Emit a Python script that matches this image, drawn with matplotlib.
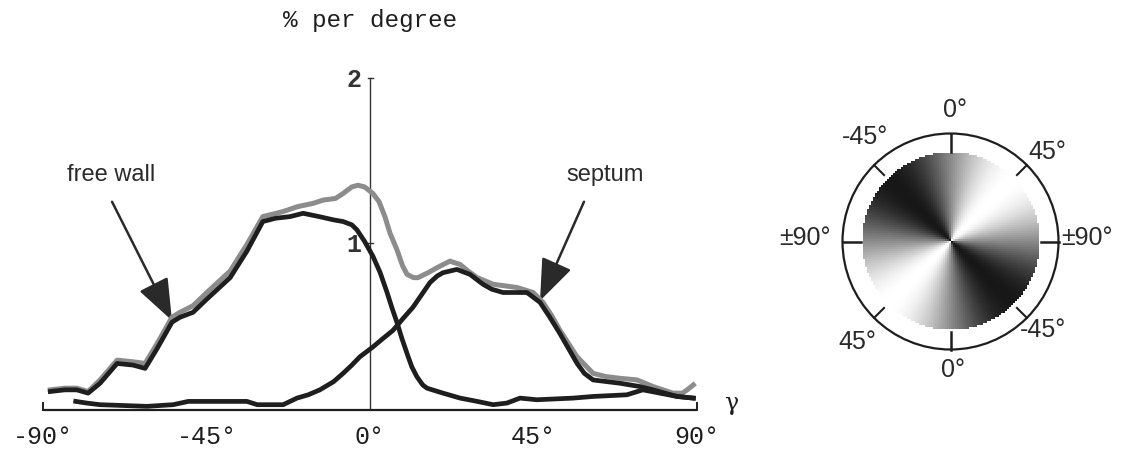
import numpy as np
import matplotlib
matplotlib.use("Agg")
import matplotlib.pyplot as plt
from matplotlib.patches import Circle, FancyArrowPatch

# helix angle distribution, % per degree
gamma_total = [-88, -84, -80.7, -77.6, -74.3, -69.6, -65.2, -61.9, -58.6, -54.5, -52.3, -48.7,
               -44.9, -38.5, -33.9, -29.5, -24, -20, -15.7, -12.9, -9.5, -7.4, -5, -3.3, -1.5,
               0.8, 2.5, 4.1, 5.5, 7.4, 9, 10.2, 12, 13.2, 16, 18.4, 22, 24.8, 27, 29.5, 33.9,
               40.5, 44.9, 47.6, 50, 52.3, 57, 61.4, 65, 68.8, 73.5, 77.9, 83.4, 86, 87.3, 89]
total = [0.11, 0.12, 0.12, 0.10, 0.17, 0.29, 0.28, 0.27, 0.39, 0.55, 0.58, 0.62,
         0.70, 0.83, 0.99, 1.16, 1.19, 1.22, 1.24, 1.26, 1.27, 1.30, 1.34, 1.35, 1.34,
         1.30, 1.25, 1.16, 1.06, 0.96, 0.86, 0.81, 0.79, 0.79, 0.82, 0.85, 0.89, 0.87, 0.83, 0.79, 0.75,
         0.73, 0.70, 0.64, 0.56, 0.47, 0.31, 0.21, 0.19, 0.18, 0.17, 0.13, 0.09, 0.09, 0.11, 0.14]

gamma_free = [-88, -84, -80.7, -77.6, -74.3, -69.6, -65.2, -61.9, -58.6, -54.5, -52.3, -48.7,
              -44.9, -38.5, -33.9, -29.5, -26, -22, -18.4, -14, -10, -7.4, -5, -3.6, -1.5,
              0.8, 2.8, 4.7, 6, 7.4, 8.8, 10.2, 11.5, 12.9, 14.5, 15.7, 20.1, 24.8, 29.5,
              33.9, 37.7, 41.3, 45.9, 55.9, 61.4, 70.7, 75.1, 79.8, 84.5, 89]
free_wall = [0.10, 0.11, 0.11, 0.09, 0.15, 0.27, 0.26, 0.24, 0.36, 0.52, 0.55, 0.58,
             0.66, 0.79, 0.95, 1.13, 1.15, 1.16, 1.18, 1.16, 1.14, 1.13, 1.11, 1.08, 1.01,
             0.92, 0.82, 0.70, 0.61, 0.52, 0.42, 0.33, 0.25, 0.19, 0.14, 0.12, 0.09, 0.06, 0.04,
             0.02, 0.03, 0.06, 0.05, 0.06, 0.07, 0.08, 0.11, 0.09, 0.07, 0.06]

gamma_septum = [-81, -78, -74.3, -61.4, -54.2, -50, -33.9, -31, -23.9, -20.1, -17, -13.8, -10,
                -7.4, -5, -2.8, 0.8, 3.5, 6.3, 9, 11.8, 14, 16.5, 18.5, 20.1, 23.9, 27.5, 31.1,
                33.5, 36.6, 43.2, 46.8, 49.5, 52.3, 57, 59, 61.4, 68.8, 74.3, 77.9, 84.5, 89]
septum = [0.04, 0.03, 0.02, 0.01, 0.02, 0.04, 0.04, 0.02, 0.02, 0.06, 0.08, 0.11, 0.16,
          0.21, 0.26, 0.31, 0.37, 0.42, 0.47, 0.54, 0.61, 0.68, 0.76, 0.80, 0.82, 0.84, 0.81, 0.75,
          0.72, 0.70, 0.70, 0.64, 0.55, 0.45, 0.27, 0.21, 0.17, 0.15, 0.13, 0.11, 0.07, 0.06]

x_ticks = [-90, -45, 0, 45, 90]
x_tick_labels = ["-90°", "-45°", "0°", "45°", "90°"]

# key disc: angle labels (clockwise from top) and where the grey ramp is white
key_labels = ["0°", "-45°", "45°", "±90°", "±90°", "45°", "-45°", "0°"]
key_label_pos = [(0.045, 1.315), (-0.855, 1.045), (0.965, 0.895), (-1.455, 0.035),
                 (1.365, 0.035), (-0.935, -1.005), (0.925, -0.885), (0.025, -1.285)]
WHITE_ANGLE = 45

DARK = "#1e1e1e"
GREY = "#8c8c8c"
MONO = "Liberation Mono"
SANS = "Liberation Sans"

fig = plt.figure(figsize=(11.28, 4.5), dpi=100)
ax = fig.add_axes([43 / 1128, 42 / 450, 654 / 1128, 330 / 450])
ax.set_xlim(-90, 90)
ax.set_ylim(0, 2)
ax.axis("off")

# axes drawn by hand, like the original figure
ax.plot([-90, 90], [-0.01, -0.01], color=DARK, lw=1.6, clip_on=False, solid_capstyle="butt")
for end in (-90, 90):
    ax.plot([end, end], [-0.01, 0.03], color=DARK, lw=1.4, clip_on=False)
ax.plot([0, 0], [0, 2], color="#333333", lw=1.0, clip_on=False)
for yv in (1, 2):
    ax.plot([-0.5, 0.9], [yv, yv], color="#333333", lw=1.0, clip_on=False)
    ax.text(-4.5, yv - 0.01, str(yv), family=MONO, fontsize=18, fontweight="bold",
            ha="center", va="center", color="#333333")

ax.plot(gamma_total, total, color=GREY, lw=3.6, solid_joinstyle="round", clip_on=False)
ax.plot(gamma_free, free_wall, color=DARK, lw=3.4, solid_joinstyle="round", clip_on=False)
ax.plot(gamma_septum, septum, color=DARK, lw=3.4, solid_joinstyle="round", clip_on=False)

for xv, lab in zip(x_ticks, x_tick_labels):
    ax.text(xv, -0.175, lab, family=MONO, fontsize=18, ha="center", va="center", color=DARK)
ax.text(99.5, 0.03, "γ", family="DejaVu Serif", fontsize=17, ha="center", va="center", color=DARK)
ax.text(0, 2.35, "% per degree", family=MONO, fontsize=17.5, ha="center", va="center", color=DARK)

# annotations
for label, tail, tip, txt in [("free wall", (-71, 1.25), (-54.5, 0.53), (-71.3, 1.41)),
                               ("septum", (58.9, 1.25), (46.8, 0.65), (64.7, 1.41))]:
    ax.add_patch(FancyArrowPatch(tail, tip, arrowstyle="-|>,head_length=1.3,head_width=0.5",
                                 mutation_scale=20, color="#2a2a2a", lw=1.8,
                                 shrinkA=0, shrinkB=0, clip_on=False))
    ax.text(*txt, label, family=SANS, fontsize=17, ha="center", va="center", color="#2a2a2a")

# key disc
kx = fig.add_axes([810.5 / 1128, 68.5 / 450, 280 / 1128, 280 / 450])
kx.axis("off")

n = 90
g = np.linspace(-0.9, 0.9, n)
xx, yy = np.meshgrid(g, g)
theta = np.radians(np.degrees(np.arctan2(xx, yy)) - WHITE_ANGLE)  # clockwise from top
shade = 0.5 + 0.5 * np.cos(2 * theta)
shade = np.ma.masked_where(np.hypot(xx, yy) > 0.9, shade)
kx.imshow(shade, cmap="gray", vmin=-0.1, vmax=1, extent=(-0.9, 0.9, -0.9, 0.9),
          origin="lower", interpolation="nearest")

kx.add_patch(Circle((0, 0), 1.08, fill=False, ec=DARK, lw=1.6))
for ang in (0, 90, 180, 270):
    a = np.radians(ang)
    kx.plot([1.08 * np.sin(a), 0.9 * np.sin(a)], [1.08 * np.cos(a), 0.9 * np.cos(a)], color=DARK, lw=1.8)
for ang in (45, 135, 225, 315):
    a = np.radians(ang)
    kx.plot([1.08 * np.sin(a), 0.94 * np.sin(a)], [1.08 * np.cos(a), 0.94 * np.cos(a)], color=DARK, lw=1.5)
for lab, (px, py) in zip(key_labels, key_label_pos):
    kx.text(px, py, lab, family=SANS, fontsize=18, ha="center", va="center", color="#2a2a2a",
            clip_on=False)
kx.set_xlim(-1.4, 1.4)
kx.set_ylim(-1.4, 1.4)
kx.set_aspect("equal")

fig.savefig("out.png", dpi=100, facecolor="white")
